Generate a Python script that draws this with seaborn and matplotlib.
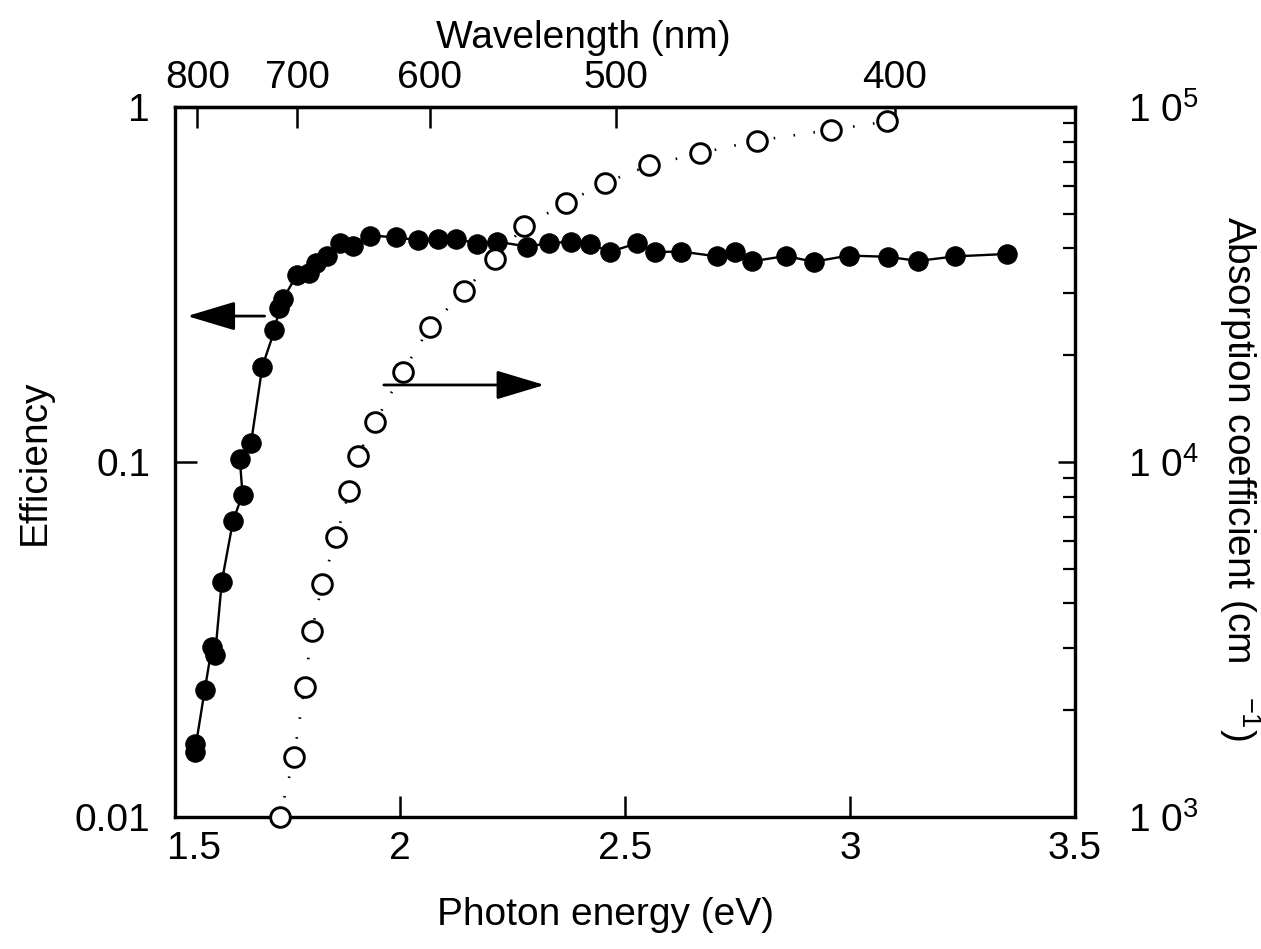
import numpy as np
import pandas as pd
import matplotlib
matplotlib.use("Agg")
import matplotlib.pyplot as plt
import matplotlib.transforms as mtransforms
import seaborn as sns
from matplotlib.ticker import LogLocator, NullFormatter, NullLocator

# ---------------- data ----------------
energy_eff = [1.544, 1.544, 1.566, 1.582, 1.589, 1.604, 1.629, 1.650, 1.644, 1.669,
              1.694, 1.721, 1.732, 1.740, 1.770, 1.797, 1.814, 1.837, 1.867, 1.896,
              1.934, 1.992, 2.040, 2.085, 2.125, 2.171, 2.216, 2.283, 2.330, 2.380,
              2.422, 2.466, 2.527, 2.566, 2.625, 2.705, 2.745, 2.783, 2.857, 2.919,
              2.997, 3.084, 3.151, 3.234, 3.348]
efficiency = [0.0161, 0.0153, 0.0228, 0.0302, 0.0286, 0.0461, 0.0684, 0.081, 0.102, 0.1135,
              0.186, 0.235, 0.272, 0.288, 0.336, 0.341, 0.364, 0.381, 0.415, 0.407,
              0.435, 0.430, 0.422, 0.425, 0.426, 0.413, 0.418, 0.405, 0.414, 0.418,
              0.413, 0.391, 0.414, 0.391, 0.392, 0.380, 0.391, 0.368, 0.381, 0.367,
              0.382, 0.379, 0.369, 0.380, 0.386]

energy_abs = [1.733, 1.764, 1.788, 1.804, 1.827, 1.858, 1.887, 1.906, 1.945, 2.006,
              2.066, 2.143, 2.210, 2.276, 2.368, 2.455, 2.554, 2.667, 2.793, 2.957, 3.083]
absorption = [1000, 1476, 2324, 3343, 4530, 6150, 8280, 10400, 12970, 17960,
              23980, 30350, 37300, 46200, 53700, 61200, 68600, 74300, 80500, 86300, 91200]

energy_ticks = [1.5, 2, 2.5, 3, 3.5]
energy_ticklabels = ["1.5", "2", "2.5", "3", "3.5"]
eff_ticks = [0.01, 0.1, 1]
eff_ticklabels = ["0.01", "0.1", "1"]
abs_ticks = [1e3, 1e4, 1e5]
abs_ticklabels = ["1 0$^{3}$", "1 0$^{4}$", "1 0$^{5}$"]
wavelength_ticks = [800, 700, 600, 500, 400]
wavelength_ticklabels = ["800", "700", "600", "500", "400"]

# arrows: (tail, head) in (energy, efficiency)
arrow_left = ((1.699, 0.258), (1.527, 0.258))
arrow_right = ((1.964, 0.165), (2.321, 0.165))

HC = 1239.84

# ---------------- style ----------------
sns.set_theme(style="ticks")
plt.rcParams["font.family"] = ["Liberation Sans", "DejaVu Sans"]
plt.rcParams["mathtext.fontset"] = "custom"
plt.rcParams["mathtext.rm"] = "Liberation Sans"
plt.rcParams["mathtext.it"] = "Liberation Sans:italic"
plt.rcParams["mathtext.bf"] = "Liberation Sans:bold"
plt.rcParams["axes.edgecolor"] = "black"
plt.rcParams["axes.labelcolor"] = "black"
plt.rcParams["text.color"] = "black"
plt.rcParams["xtick.color"] = "black"
plt.rcParams["ytick.color"] = "black"

TICK_FS = 28
LABEL_FS = 28
SPINE_LW = 2.3

fig = plt.figure(figsize=(12.61, 9.49), dpi=100)
ax = fig.add_axes([0.1388, 0.139, 0.7137, 0.748])

df_eff = pd.DataFrame({"energy": energy_eff, "efficiency": efficiency})
df_abs = pd.DataFrame({"energy": energy_abs, "absorption": absorption})

sns.lineplot(data=df_eff, x="energy", y="efficiency", sort=False, estimator=None,
             color="black", linewidth=1.7, marker="o", markersize=14,
             markerfacecolor="black", markeredgecolor="black", ax=ax, zorder=3)
ax.set_xscale("linear")
ax.set_yscale("log")
ax.set_xlim(1.5, 3.5)
ax.set_ylim(0.01, 1)

ax2 = ax.twinx()
ax2.set_yscale("log")
sns.lineplot(data=df_abs, x="energy", y="absorption", sort=False, estimator=None,
             color="black", linewidth=1.9, linestyle=(0, (0.6, 7)), ax=ax2, zorder=2)
sns.scatterplot(data=df_abs, x="energy", y="absorption", s=200, facecolor="white",
                edgecolor="black", linewidth=2.1, ax=ax2, zorder=4, clip_on=False)
ax2.set_ylim(1e3, 1e5)
ax2.set_xlim(1.5, 3.5)

# spines
for a in (ax, ax2):
    for sp in a.spines.values():
        sp.set_linewidth(SPINE_LW)
        sp.set_color("black")

# bottom axis
ax.set_xticks(energy_ticks, energy_ticklabels)
ax.xaxis.set_minor_locator(NullLocator())
ax.tick_params(axis="x", which="major", direction="in", length=15, width=1.8,
               labelsize=TICK_FS, pad=10, top=False, bottom=True)
ax.set_xlabel("Photon energy (eV)", fontsize=LABEL_FS)
ax.xaxis.set_label_coords(0.478, -0.112)
first_lbl = ax.get_xticklabels()[0]
first_lbl.set_transform(first_lbl.get_transform()
                        + mtransforms.ScaledTranslation(14 / 72, 0, fig.dpi_scale_trans))

# left axis
ax.set_yticks(eff_ticks, eff_ticklabels)
ax.yaxis.set_minor_locator(NullLocator())
ax.tick_params(axis="y", which="major", direction="in", length=16, width=1.8,
               labelsize=TICK_FS, pad=18, left=True, right=False)
ax.set_ylabel("Efficiency", fontsize=LABEL_FS)
ax.yaxis.set_label_coords(-0.136, 0.5)

# right axis
ax2.set_yticks(abs_ticks, abs_ticklabels)
ax2.yaxis.set_minor_locator(LogLocator(base=10, subs=np.arange(2, 10)))
ax2.yaxis.set_minor_formatter(NullFormatter())
ax2.tick_params(axis="y", which="major", direction="in", length=12, width=1.8,
                labelsize=TICK_FS, pad=38)
ax2.tick_params(axis="y", which="minor", direction="in", length=9, width=1.6)
ax2.set_xlabel("")
ax2.set_ylabel("Absorption coefficient (cm   $^{-1}$)", fontsize=LABEL_FS,
               rotation=270, ha="center", va="center")
ax2.yaxis.set_label_coords(1.183, 0.477)


# top axis (wavelength)
def e2w(e):
    e = np.asarray(e, dtype=float)
    return HC / np.where(np.abs(e) < 1e-9, 1e-9, e)


def w2e(w):
    w = np.asarray(w, dtype=float)
    return HC / np.where(np.abs(w) < 1e-9, 1e-9, w)


secax = ax.secondary_xaxis("top", functions=(e2w, w2e))
secax.set_xticks(wavelength_ticks, wavelength_ticklabels)
secax.xaxis.set_minor_locator(NullLocator())
secax.tick_params(axis="x", which="major", direction="in", length=15, width=1.8,
                  labelsize=TICK_FS, pad=8)
secax.spines["top"].set_linewidth(SPINE_LW)
ax.text(0.454, 1.097, "Wavelength (nm)", transform=ax.transAxes, fontsize=LABEL_FS,
        ha="center", va="center")

# arrows
arrow_kw = dict(arrowstyle="-|>,head_length=1.5,head_width=0.45", mutation_scale=20,
                lw=2.0, color="black", shrinkA=0, shrinkB=0)
ax.annotate("", xy=arrow_left[1], xytext=arrow_left[0], arrowprops=arrow_kw, zorder=5)
ax.annotate("", xy=arrow_right[1], xytext=arrow_right[0], arrowprops=arrow_kw, zorder=5)

fig.savefig("out.png", dpi=100, facecolor="white")
